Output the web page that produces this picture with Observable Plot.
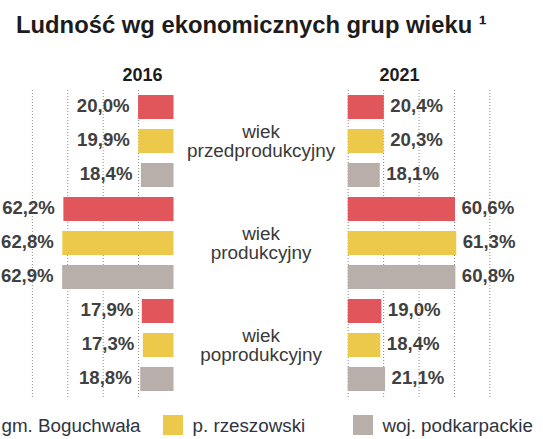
<!DOCTYPE html>
<html>
<head>
<meta charset="utf-8">
<script src="https://cdn.jsdelivr.net/npm/d3@7"></script>
<script src="https://cdn.jsdelivr.net/npm/@observablehq/plot@0.6"></script>
<style>
  html, body { margin: 0; padding: 0; background: #fff; }
  #page { position: relative; width: 543px; height: 439px; overflow: hidden; font-family: "Liberation Sans", Arial, sans-serif; }
  #title { position: absolute; left: 16px; top: 13px; font-size: 23.8px; line-height: 23.8px; font-weight: bold; color: #1c1c1c; white-space: nowrap; }
  #chart { position: absolute; left: 0; top: 45px; }
  .sw { position: absolute; width: 20px; height: 20px; top: 415px; }
  .lt { position: absolute; top: 416px; font-size: 18.8px; line-height: 19px; color: #2f3440; white-space: nowrap; }
</style>
</head>
<body>
<div id="page">
  <div id="title">Ludność wg ekonomicznych grup wieku ¹</div>
  <div id="chart"></div>
</div>
<script>
// ---- data ----
const groups = ["wiek\nprzedprodukcyjny", "wiek\nprodukcyjny", "wiek\npoprodukcyjny"];
const series = ["gm. Boguchwała", "p. rzeszowski", "woj. podkarpackie"];
const colors = ["#E0565A", "#ECC94B", "#B8AFAA"];
const years = ["2016", "2021"];
const values2016 = [
  [20.0, 19.9, 18.4],
  [62.2, 62.8, 62.9],
  [17.9, 17.3, 18.8]
];
const values2021 = [
  [20.4, 20.3, 18.1],
  [60.6, 61.3, 60.8],
  [19.0, 18.4, 21.1]
];
const gridTicks = [20, 40, 60, 80];

// ---- layout helpers ----
const gap = 49.2; // half gap between the two panels, in percent units
const rows = [];
groups.forEach((g, gi) => series.forEach((s, si) => {
  rows.push({key: gi + "|" + si, group: g, series: s, color: colors[si],
             v2016: values2016[gi][si], v2021: values2021[gi][si]});
}));
const keys = rows.map(d => d.key);
const fmt = v => v.toFixed(1).replace(".", ",") + "%";
const centerRows = groups.map((g, gi) => ({label: g, key: gi + "|1"}));
const leftGrid = gridTicks.map(t => -(gap + t));
const rightGrid = [0, ...gridTicks].map(t => gap + t);
const yearLabels = [{label: years[0], x: -gap - 17.8}, {label: years[1], x: gap + 29}];

const plot = Plot.plot({
  width: 543,
  height: 360,
  marginLeft: 0, marginRight: 0, marginTop: 45, marginBottom: 8,
  x: {domain: [-147.2, 159.5], range: [0, 543], axis: null},
  y: {domain: keys, axis: null, paddingInner: 0.286, paddingOuter: 0.117},
  style: {fontFamily: "Liberation Sans, Arial, sans-serif"},
  marks: [
    Plot.ruleX([...leftGrid, ...rightGrid], {stroke: "#8a8a8a", strokeWidth: 1, strokeDasharray: "1,2"}),
    Plot.barX(rows, {y: "key", x1: -gap, x2: d => -gap - d.v2016, fill: "color"}),
    Plot.barX(rows, {y: "key", x1: gap, x2: d => gap + d.v2021, fill: "color"}),
    Plot.text(rows, {y: "key", x: d => -gap - d.v2016, text: d => fmt(d.v2016),
      textAnchor: "end", dx: -9, dy: -1, fontSize: 18.6, fontWeight: "bold", fill: "#404040"}),
    Plot.text(rows, {y: "key", x: d => gap + d.v2021, text: d => fmt(d.v2021),
      textAnchor: "start", dx: 6, dy: -1, fontSize: 18.6, fontWeight: "bold", fill: "#404040"}),
    Plot.text(centerRows, {y: "key", x: 0, text: "label", fontSize: 18.9, lineHeight: 1.03, fill: "#3a3a3a"}),
    Plot.text(yearLabels, {x: "x", text: "label", frameAnchor: "top", lineAnchor: "middle", dy: -14.8,
      fontSize: 18, fontWeight: "bold", fill: "#1c1c1c"})
  ]
});
document.getElementById("chart").appendChild(plot);

// ---- legend ----
const page = document.getElementById("page");
const legendStart = [-28, 163, 353];
series.forEach((s, i) => {
  const sw = document.createElement("div");
  sw.className = "sw";
  sw.style.left = legendStart[i] + "px";
  sw.style.background = colors[i];
  page.appendChild(sw);
  const t = document.createElement("div");
  t.className = "lt";
  t.style.left = (legendStart[i] + 29.5) + "px";
  t.textContent = s;
  page.appendChild(t);
});
</script>
</body>
</html>
